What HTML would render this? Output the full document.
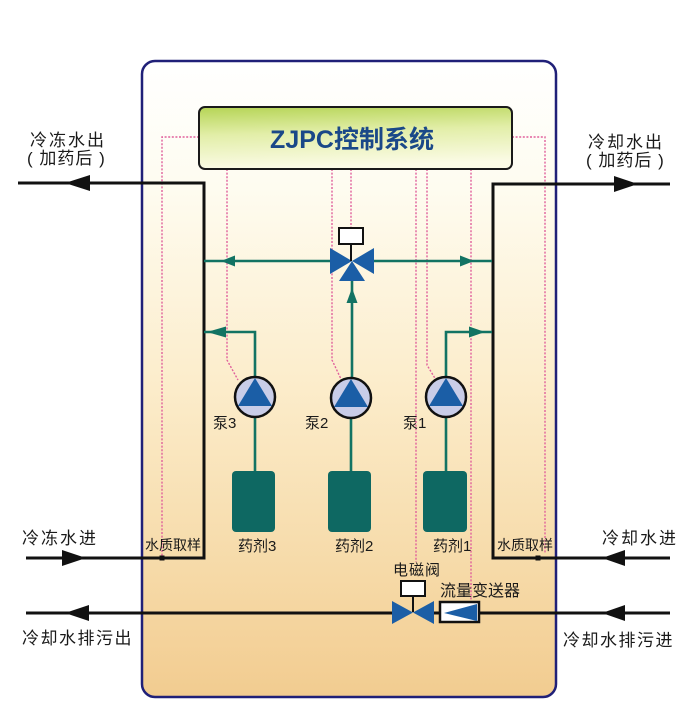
<!DOCTYPE html>
<html><head><meta charset="utf-8"><style>
html,body{margin:0;padding:0;background:#fff;}
svg{display:block;}
text{font-family:"Liberation Sans","Noto Sans CJK SC",sans-serif;fill:#1a1a1a;}
</style></head><body>
<svg width="700" height="724" viewBox="0 0 700 724" xmlns="http://www.w3.org/2000/svg">
<defs>
<linearGradient id="bg" x1="0" y1="0" x2="0" y2="1">
<stop offset="0" stop-color="#ffffff"/>
<stop offset="0.2" stop-color="#fefcf0"/>
<stop offset="0.5" stop-color="#fcedcc"/>
<stop offset="0.8" stop-color="#f6daa8"/>
<stop offset="1" stop-color="#f2cc90"/>
</linearGradient>
<linearGradient id="tb" x1="0" y1="0" x2="0.15" y2="1">
<stop offset="0" stop-color="#b5d455"/>
<stop offset="0.45" stop-color="#e2eea8"/>
<stop offset="1" stop-color="#fbfbe6"/>
</linearGradient>
</defs>
<rect x="0" y="0" width="700" height="724" fill="#fff"/>
<!-- outer box -->
<rect x="142" y="61" width="414" height="636" rx="13" ry="13" fill="url(#bg)" stroke="#202078" stroke-width="2.5"/>

<!-- pink dotted control lines -->
<g fill="none" stroke="#e0609c" stroke-width="1.4" stroke-dasharray="2 1.6">
<path d="M199 137 H162 V556"/>
<path d="M512 137 H545 V553"/>
<path d="M227 169 V360 L238 380"/>
<path d="M332 169 V360 L341 379"/>
<path d="M351 169 V227"/>
<path d="M416 169 V562"/>
<path d="M427 169 V365 L436 380"/>
<path d="M471 169 V601"/>
</g>

<!-- top control box -->
<rect x="199" y="107" width="313" height="62" rx="6" ry="6" fill="url(#tb)" stroke="#1a1a1a" stroke-width="2"/>
<text x="352" y="148" text-anchor="middle" font-size="25" font-weight="bold" style="fill:#1a4888">ZJPC控制系统</text>

<!-- black pipes -->
<g fill="none" stroke="#111" stroke-width="3">
<path d="M18 183 H204 V558 H26"/>
<path d="M670 184 H493 V558 H670"/>
<path d="M26 613 H392"/>
<path d="M434 613 H439"/>
<path d="M480 613 H670"/>
</g>
<g fill="#111">
<polygon points="65,183 90,175 90,191"/>
<polygon points="86,558 62,550 62,566"/>
<polygon points="65,613 89,605 89,621"/>
<polygon points="638,184 614,176 614,192"/>
<polygon points="602,558 625,550 625,566"/>
<polygon points="602,613 625,605 625,621"/>
<rect x="159.5" y="555.5" width="5" height="5"/>
<rect x="535.5" y="555.5" width="5" height="5"/>
</g>

<!-- green lines -->
<g fill="none" stroke="#127363" stroke-width="2.6">
<path d="M204 261 H332"/>
<path d="M372 261 H492"/>
<path d="M352 280 V377"/>
<path d="M255 377 V332 H204"/>
<path d="M446 377 V332 H492"/>
<path d="M255 417 V471"/>
<path d="M351 418 V471"/>
<path d="M446 417 V471"/>
</g>
<g fill="#127363">
<polygon points="221,261 235,255.5 235,266.5"/>
<polygon points="474,261 460,255.5 460,266.5"/>
<polygon points="352,288 346.5,303 357.5,303"/>
<polygon points="207,332 226,326.5 226,337.5"/>
<polygon points="485,332 469,326.5 469,337.5"/>
</g>

<!-- three-way valve -->
<g fill="#1b5ea6">
<polygon points="330,248 330,274 352,261"/>
<polygon points="374,248 374,274 352,261"/>
<polygon points="352,261 339,281 365,281"/>
</g>
<line x1="351" y1="244" x2="351" y2="261" stroke="#111" stroke-width="2"/>
<rect x="339" y="228" width="24" height="16" fill="#fff" stroke="#111" stroke-width="2"/>

<!-- pumps -->
<g>
<circle cx="255" cy="397" r="20" fill="#c9cde8" stroke="#111" stroke-width="2.5"/>
<polygon points="255,378 238,406 272,406" fill="#1b5ea6"/>
<circle cx="351" cy="398" r="20" fill="#c9cde8" stroke="#111" stroke-width="2.5"/>
<polygon points="351,379 334,407 368,407" fill="#1b5ea6"/>
<circle cx="446" cy="397" r="20" fill="#c9cde8" stroke="#111" stroke-width="2.5"/>
<polygon points="446,378 429,406 463,406" fill="#1b5ea6"/>
</g>

<!-- tanks -->
<g fill="#0e6862">
<rect x="232" y="471" width="43" height="61" rx="4" ry="4"/>
<rect x="328" y="471" width="43" height="61" rx="4" ry="4"/>
<rect x="423" y="471" width="44" height="61" rx="4" ry="4"/>
</g>

<!-- solenoid valve -->
<g fill="#1b5ea6">
<polygon points="392,601 392,624 413,612.5"/>
<polygon points="434,601 434,624 413,612.5"/>
</g>
<line x1="413" y1="596" x2="413" y2="612" stroke="#111" stroke-width="2"/>
<rect x="401" y="581" width="24" height="15" fill="#fff" stroke="#111" stroke-width="2"/>

<!-- flow transmitter -->
<rect x="440" y="602" width="39" height="20" fill="#fff" stroke="#111" stroke-width="2.5"/>
<polygon points="444,613 477,604 477,621" fill="#1b5ea6"/>

<!-- labels -->
<g font-size="17">
<text x="30" y="146" letter-spacing="2">冷冻水出</text>
<text x="27" y="164" letter-spacing="1">( 加药后 )</text>
<text x="588" y="148" letter-spacing="2">冷却水出</text>
<text x="586" y="166" letter-spacing="1">( 加药后 )</text>
<text x="22" y="544" letter-spacing="2">冷冻水进</text>
<text x="602" y="544" letter-spacing="2">冷却水进</text>
<text x="22" y="644" letter-spacing="1.5">冷却水排污出</text>
<text x="563" y="646" letter-spacing="1.5">冷却水排污进</text>
</g>
<g font-size="14">
<text x="145" y="550">水质取样</text>
<text x="497" y="550">水质取样</text>
</g>
<g font-size="15">
<text x="238" y="551">药剂3</text>
<text x="335" y="551">药剂2</text>
<text x="433" y="551">药剂1</text>
<text x="213" y="428">泵3</text>
<text x="305" y="428">泵2</text>
<text x="403" y="428">泵1</text>
<text x="393" y="575" letter-spacing="1">电磁阀</text>
<text x="440" y="596" font-size="16">流量变送器</text>
</g>
</svg>
</body></html>
